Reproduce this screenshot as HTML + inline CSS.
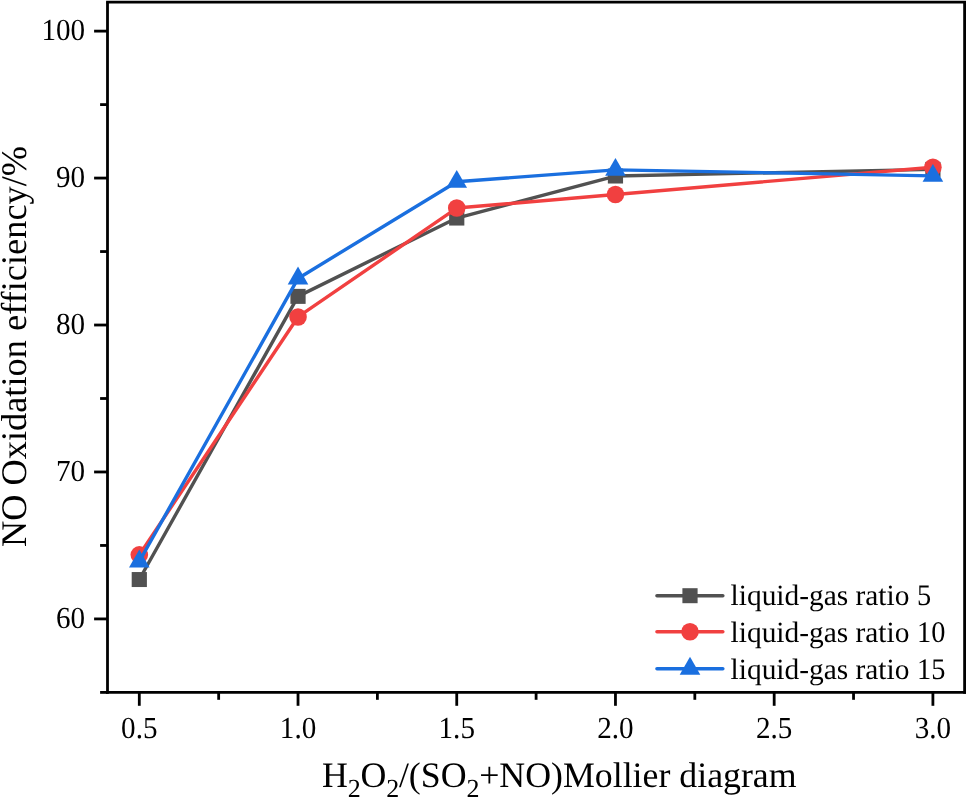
<!DOCTYPE html>
<html lang="en">
<head>
<meta charset="utf-8">
<title>NO Oxidation efficiency</title>
<style>
html,body{margin:0;padding:0;background:#fff;}
body{width:966px;height:797px;overflow:hidden;}
svg{display:block;text-rendering:geometricPrecision;font-family:"Liberation Serif","Times New Roman",serif;fill:#000;}
</style>
</head>
<body>
<svg width="966" height="797" viewBox="0 0 966 797">
<rect x="0" y="0" width="966" height="797" fill="#ffffff"/>
<g stroke="#000" stroke-width="2.8" fill="none" stroke-linecap="butt">
<path d="M107.5 693.8 V2.2 "/>
<path d="M106.1 2.2 H966"/>
<path d="M964.6 2.2 V693.8"/>
<path d="M106.1 692.4 H966"/>
<path d="M94.10 618.92 H107.5"/>
<path d="M94.10 471.97 H107.5"/>
<path d="M94.10 325.02 H107.5"/>
<path d="M94.10 178.07 H107.5"/>
<path d="M94.10 31.12 H107.5"/>
<path d="M100.10 692.40 H107.5"/>
<path d="M100.10 545.45 H107.5"/>
<path d="M100.10 398.50 H107.5"/>
<path d="M100.10 251.55 H107.5"/>
<path d="M100.10 104.60 H107.5"/>
<path d="M139.30 692.4 V705.80"/>
<path d="M298.02 692.4 V705.80"/>
<path d="M456.74 692.4 V705.80"/>
<path d="M615.46 692.4 V705.80"/>
<path d="M774.18 692.4 V705.80"/>
<path d="M932.90 692.4 V705.80"/>
<path d="M218.66 692.4 V699.80"/>
<path d="M377.38 692.4 V699.80"/>
<path d="M536.10 692.4 V699.80"/>
<path d="M694.82 692.4 V699.80"/>
<path d="M853.54 692.4 V699.80"/>
</g>
<g font-size="30" text-anchor="end">
<text transform="translate(85.1 627.92) scale(0.971 1.02)">60</text>
<text transform="translate(85.1 480.97) scale(0.971 1.02)">70</text>
<text transform="translate(85.1 334.02) scale(0.971 1.02)">80</text>
<text transform="translate(85.1 187.07) scale(0.971 1.02)">90</text>
<text transform="translate(85.1 40.12) scale(0.971 1.02)">100</text>
</g>
<g font-size="30" text-anchor="middle">
<text transform="translate(139.30 738.2) scale(0.971 1.02)">0.5</text>
<text transform="translate(298.02 738.2) scale(0.971 1.02)">1.0</text>
<text transform="translate(456.74 738.2) scale(0.971 1.02)">1.5</text>
<text transform="translate(615.46 738.2) scale(0.971 1.02)">2.0</text>
<text transform="translate(774.18 738.2) scale(0.971 1.02)">2.5</text>
<text transform="translate(932.90 738.2) scale(0.971 1.02)">3.0</text>
</g>
<text transform="translate(26 346.5) rotate(-90) scale(1.01 1)" font-size="36" text-anchor="middle">NO Oxidation efficiency/%</text>
<text x="322.0" y="786.7" font-size="35.8">H<tspan dy="9.9" font-size="26">2</tspan><tspan dx="-0.4" dy="-9.9">O</tspan><tspan dy="9.9" font-size="26">2</tspan><tspan dx="-0.4" dy="-9.9">/(SO</tspan><tspan dy="9.9" font-size="26">2</tspan><tspan dx="-0.4" dy="-9.9">+NO)Mollier diagram</tspan></text>
<polyline points="139.30,579.54 298.02,296.37 456.74,218.05 615.46,176.02 932.90,169.40" fill="none" stroke="#515151" stroke-width="3.4" stroke-linejoin="round" stroke-linecap="round"/>
<rect x="131.70" y="572.04" width="15.2" height="15" fill="#515151"/>
<rect x="290.42" y="288.87" width="15.2" height="15" fill="#515151"/>
<rect x="449.14" y="210.55" width="15.2" height="15" fill="#515151"/>
<rect x="607.86" y="168.52" width="15.2" height="15" fill="#515151"/>
<rect x="925.30" y="161.90" width="15.2" height="15" fill="#515151"/>
<polyline points="139.30,554.85 298.02,316.94 456.74,208.05 615.46,194.53 932.90,167.20" fill="none" stroke="#F14040" stroke-width="3.4" stroke-linejoin="round" stroke-linecap="round"/>
<circle cx="139.30" cy="554.85" r="8.8" fill="#F14040"/>
<circle cx="298.02" cy="316.94" r="8.8" fill="#F14040"/>
<circle cx="456.74" cy="208.05" r="8.8" fill="#F14040"/>
<circle cx="615.46" cy="194.53" r="8.8" fill="#F14040"/>
<circle cx="932.90" cy="167.20" r="8.8" fill="#F14040"/>
<polyline points="139.30,561.47 298.02,278.44 456.74,181.75 615.46,169.85 932.90,175.87" fill="none" stroke="#1A6FDF" stroke-width="3.4" stroke-linejoin="round" stroke-linecap="round"/>
<path d="M139.30 549.60 L149.60 567.40 H129.00 Z" fill="#1A6FDF"/>
<path d="M298.02 266.58 L308.32 284.38 H287.72 Z" fill="#1A6FDF"/>
<path d="M456.74 169.88 L467.04 187.68 H446.44 Z" fill="#1A6FDF"/>
<path d="M615.46 157.98 L625.76 175.78 H605.16 Z" fill="#1A6FDF"/>
<path d="M932.90 164.00 L943.20 181.80 H922.60 Z" fill="#1A6FDF"/>
<path d="M657 595.7 H722.8" stroke="#515151" stroke-width="3.6" stroke-linecap="round" fill="none"/>
<rect x="682.40" y="588.20" width="15.2" height="15" fill="#515151"/>
<text transform="translate(730.6 605.4) scale(1 1)" font-size="29.4">liquid-gas ratio</text>
<text transform="translate(917.0 605.4) scale(0.965 1.02)" font-size="29.4">5</text>
<path d="M657 631.8 H722.8" stroke="#F14040" stroke-width="3.6" stroke-linecap="round" fill="none"/>
<circle cx="690.00" cy="631.80" r="8.8" fill="#F14040"/>
<text transform="translate(730.6 642.4) scale(1 1)" font-size="29.4">liquid-gas ratio</text>
<text transform="translate(917.0 642.4) scale(0.965 1.02)" font-size="29.4">10</text>
<path d="M657 668.7 H722.8" stroke="#1A6FDF" stroke-width="3.6" stroke-linecap="round" fill="none"/>
<path d="M690.00 656.83 L700.30 674.63 H679.70 Z" fill="#1A6FDF"/>
<text transform="translate(730.6 678.5) scale(1 1)" font-size="29.4">liquid-gas ratio</text>
<text transform="translate(917.0 678.5) scale(0.965 1.02)" font-size="29.4">15</text>
</svg>
</body>
</html>
